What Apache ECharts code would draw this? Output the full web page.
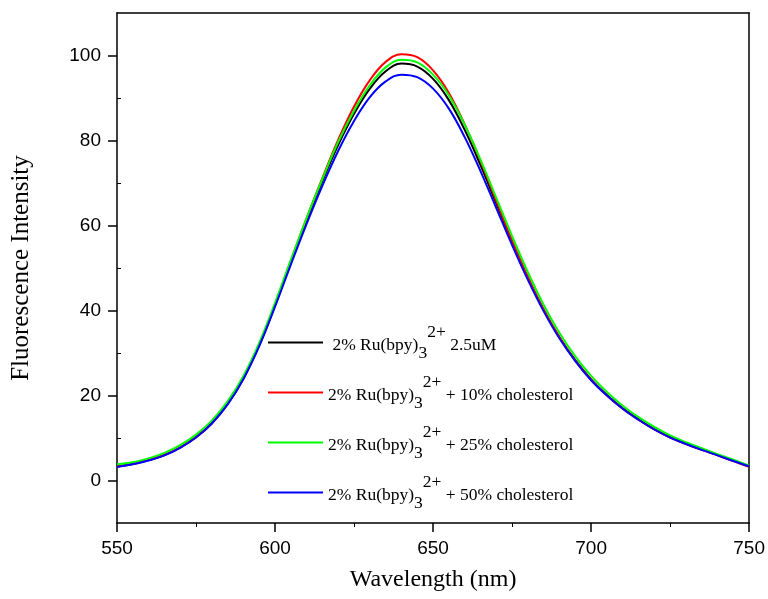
<!DOCTYPE html>
<html><head><meta charset="utf-8">
<script src="https://cdn.jsdelivr.net/npm/echarts@6/dist/echarts.min.js"></script>
<style>html,body{margin:0;padding:0;background:#fff}#c{width:768px;height:599px}</style>
</head><body><div id="c"></div>
<script>
const wavelength = [550,555,560,565,570,575,580,585,590,595,600,605,610,615,620,625,630,635,640,645,650,655,660,665,670,675,680,685,690,695,700,705,710,715,720,725,730,735,740,745,750];
const black = [3.3,3.9,4.8,6.0,7.8,10.2,13.5,18,24,31.8,41.2,51.3,61.2,70.5,79,86.3,92.2,96.3,98.1,97.4,94.5,89.5,82.5,74.2,65.2,56.2,47.8,40.2,33.7,28.3,23.8,20.1,17,14.4,12.1,10.2,8.7,7.3,6,4.7,3.4];
const red = [3.3,3.9,4.8,6.0,7.8,10.2,13.4,18,24,31.9,41.4,51.6,61.7,71.2,80.2,88,94.2,98.5,100.3,99.6,96.5,91.2,83.8,75.2,65.8,56.5,47.9,40.2,33.7,28.2,23.7,20,16.9,14.3,12,10.1,8.6,7.2,5.9,4.6,3.2];
const green = [3.8,4.3,5.2,6.5,8.3,10.8,14.1,18.6,24.6,32.4,41.8,51.9,61.8,71,79.7,87,93,97.2,99,98.4,95.5,90.6,83.7,75.5,66.5,57.5,49,41.3,34.7,29.2,24.6,20.8,17.6,14.9,12.6,10.6,9,7.6,6.2,4.9,3.5];
const blue = [3.2,3.8,4.7,5.9,7.7,10.1,13.4,17.9,23.9,31.6,40.9,50.8,60.4,69.4,77.6,84.6,90.2,93.9,95.5,94.9,92.2,87.5,80.8,72.8,64.1,55.4,47.2,39.8,33.4,28.1,23.6,20,16.9,14.3,12,10.1,8.6,7.2,5.9,4.6,3.3];
const seriesNames = ['c0','c1','c2','c3'];
const legendLabels = [
  '{m| 2% Ru(bpy)}{sub|3}{sup|2+}{m| 2.5uM}',
  '{m|2% Ru(bpy)}{sub|3}{sup|2+}{m| + 10% cholesterol}',
  '{m|2% Ru(bpy)}{sub|3}{sup|2+}{m| + 25% cholesterol}',
  '{m|2% Ru(bpy)}{sub|3}{sup|2+}{m| + 50% cholesterol}'
];
const seriesColors = ['#000000','#ff0000','#00ff00','#0000ff'];
const yTickValues = [0,20,40,60,80,100];
const yMinorTickValues = [10,30,50,70,90];
const xTitle = 'Wavelength (nm)';
const yTitle = 'Fluorescence Intensity';

const allValues = [black, red, green, blue];
const legendCenters = [343, 393, 443, 493];
const legendItemH = 39;

const chart = echarts.init(document.getElementById('c'), null, {renderer:'canvas'});
const axisLineStyle = {color:'#000', width:1.5};
const serif = 'Liberation Serif';
const sans = 'Liberation Sans';
const fs = 17.5;

const legends = seriesNames.map((n, i) => ({
  data: [n], left: 268, top: legendCenters[i] - legendItemH/2, orient: 'vertical',
  icon: 'rect', itemWidth: 55, itemHeight: 2, padding: 0, itemGap: 0, selectedMode: false,
  formatter: () => legendLabels[i],
  textStyle: {fontFamily: serif, fontSize: fs, color: '#000',
    rich: {
      m: {fontFamily: serif, fontSize: fs, color:'#000', padding: [6,0,0,0]},
      sub: {fontFamily: serif, fontSize: fs, color:'#000', padding: [22,0,0,0]},
      sup: {fontFamily: serif, fontSize: fs, color:'#000', padding: [0,0,20,0]}
    }}
}));

chart.setOption({
  animation: false,
  backgroundColor: '#fff',
  grid: {left: 117, right: 16, top: 13, bottom: 76, containLabel: false},
  legend: legends,
  xAxis: [
    {type:'value', min:550, max:750, interval:50, position:'bottom',
     axisLine:{show:true, onZero:false, lineStyle:axisLineStyle},
     axisTick:{show:true, length:9, lineStyle:axisLineStyle},
     minorTick:{show:true, splitNumber:2, length:4, lineStyle:{color:'#000', width:1}},
     splitLine:{show:false}, minorSplitLine:{show:false},
     axisLabel:{color:'#000', fontFamily:sans, fontSize:19, margin:16},
     name:xTitle, nameLocation:'middle', nameGap:45,
     nameTextStyle:{fontFamily:serif, fontSize:24, color:'#000'}},
    {type:'value', min:550, max:750, position:'top',
     axisLine:{show:true, onZero:false, lineStyle:axisLineStyle},
     axisTick:{show:false}, axisLabel:{show:false}, splitLine:{show:false}}
  ],
  yAxis: [
    {type:'value', min:-10, max:110, position:'left',
     axisLine:{show:true, onZero:false, lineStyle:axisLineStyle},
     axisTick:{show:true, length:9, customValues:yTickValues, lineStyle:axisLineStyle},
     axisLabel:{customValues:yTickValues, color:'#000', fontFamily:sans, fontSize:19, margin:16},
     splitLine:{show:false},
     name:yTitle, nameLocation:'middle', nameGap:83,
     nameTextStyle:{fontFamily:serif, fontSize:25, color:'#000'}},
    {type:'value', min:-10, max:110, position:'left',
     axisLine:{show:false, onZero:false},
     axisTick:{show:true, inside:true, length:4, customValues:yMinorTickValues, lineStyle:{color:'#000', width:1}},
     axisLabel:{show:false}, splitLine:{show:false}},
    {type:'value', min:-10, max:110, position:'right',
     axisLine:{show:true, onZero:false, lineStyle:axisLineStyle},
     axisTick:{show:false}, axisLabel:{show:false}, splitLine:{show:false}}
  ],
  series: seriesNames.map((n, i) => ({
    name: n, type: 'line', xAxisIndex: 0, yAxisIndex: 0, smooth: 0.4,
    showSymbol: false, symbol: 'none', color: seriesColors[i],
    lineStyle: {color: seriesColors[i], width: 2},
    data: wavelength.map((w, k) => [w, allValues[i][k]])
  }))
});
</script></body></html>
